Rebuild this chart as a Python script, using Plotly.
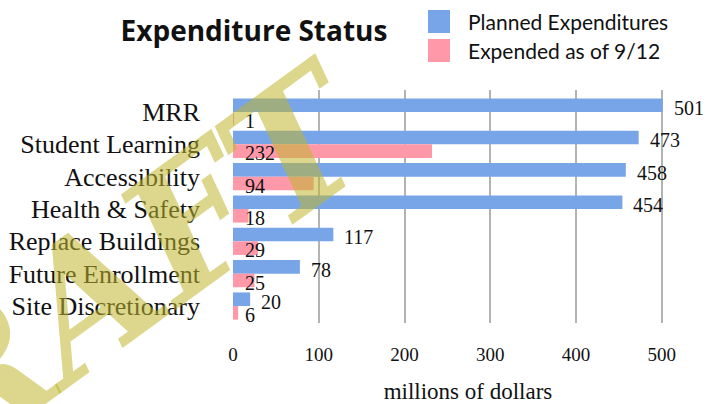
import plotly.graph_objects as go

categories = ["MRR", "Student Learning", "Accessibility", "Health & Safety",
              "Replace Buildings", "Future Enrollment", "Site Discretionary"]
planned = [501, 473, 458, 454, 117, 78, 20]
expended = [1, 232, 94, 18, 29, 25, 6]
series_names = ["Planned Expenditures", "Expended as of 9/12"]
tick_vals = [0, 100, 200, 300, 400, 500]

BLUE = "#77A5E8"
PINK = "#FF98A9"
SERIF = "Liberation Serif"
SANS = "Lato"

W, H = 711, 404
L, R, T, B = 233, 8, 90, 81
PW, PH = W - L - R, H - T - B


def px(x):
    return (x - L) / PW


def py(y):
    return (H - B - y) / PH


fig = go.Figure()
fig.add_trace(go.Bar(y=categories, x=planned, orientation="h", name=series_names[0],
                     marker=dict(color=BLUE, line=dict(width=0)), showlegend=False))
fig.add_trace(go.Bar(y=categories, x=expended, orientation="h", name=series_names[1],
                     marker=dict(color=PINK, line=dict(width=0)), showlegend=False))

annotations = []
for c, v in zip(categories, planned):
    annotations.append(dict(x=v, y=c, xref="x", yref="y", text=str(v), showarrow=False,
                            xanchor="left", yanchor="middle", xshift=9, yshift=4,
                            font=dict(family=SERIF, size=20, color="#111111")))
for c, v in zip(categories, expended):
    annotations.append(dict(x=0, y=c, xref="x", yref="y", text=str(v), showarrow=False,
                            xanchor="left", yanchor="middle", xshift=10, yshift=-9,
                            font=dict(family=SERIF, size=20, color="#111111")))

# legend (drawn manually to match large square swatches)
shapes = []
for i, (name, col) in enumerate(zip(series_names, [BLUE, PINK])):
    y0 = 10 + i * 29
    shapes.append(dict(type="rect", xref="paper", yref="paper",
                       x0=px(428), x1=px(450), y0=py(y0 + 23), y1=py(y0),
                       fillcolor=col, line=dict(width=0)))
    annotations.append(dict(x=px(466), y=py(y0 + 11.5), xref="paper", yref="paper",
                            text=name, showarrow=False, xanchor="left", yanchor="middle",
                            font=dict(family=SANS, size=21, color="#111111")))

# watermark
annotations.append(dict(x=px(74), y=py(308), xref="paper", yref="paper",
                        text="<b><i>DRAFT</i></b>",
                        showarrow=False, textangle=-36, xanchor="center", yanchor="middle",
                        font=dict(family="DejaVu Serif", size=172,
                                  color="rgba(192,182,45,0.55)")))

fig.update_layout(
    width=W, height=H,
    margin=dict(l=L, r=R, t=T, b=B, pad=0, autoexpand=False),
    paper_bgcolor="white", plot_bgcolor="white",
    barmode="group", bargap=0.16, bargroupgap=0,
    title=dict(text="<b>Expenditure Status</b>", x=254 / W, xanchor="center",
               y=1 - 31 / H, yanchor="middle", xref="container", yref="container",
               font=dict(family="Open Sans", size=28, color="#111111")),
    xaxis=dict(range=[0, 548], tickvals=tick_vals, showgrid=True, gridcolor="#b3b3b3",
               gridwidth=2, zeroline=False, showline=False, ticks="", automargin=False,
               ticklabelstandoff=18,
               tickfont=dict(family=SERIF, size=19, color="#111111"),
               title=dict(text="millions of dollars", standoff=19,
                          font=dict(family=SERIF, size=23, color="#111111"))),
    yaxis=dict(autorange="reversed", showgrid=False, zeroline=False, showline=False,
               ticks="", ticklabelstandoff=32, automargin=False,
               tickfont=dict(family=SERIF, size=26, color="#111111")),
    shapes=shapes,
    annotations=annotations,
    showlegend=False,
)

fig.write_html("out.html", config={"displayModeBar": False},
               post_script="document.body.style.margin='0';document.body.style.overflow='hidden';")
